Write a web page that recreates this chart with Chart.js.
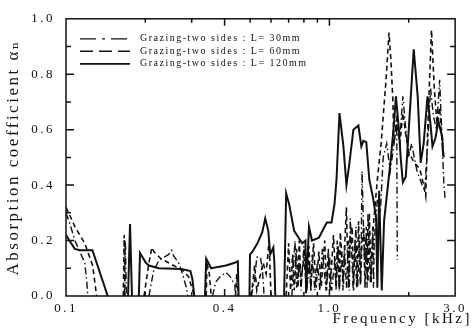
<!DOCTYPE html>
<html>
<head>
<meta charset="utf-8">
<script src="https://cdn.jsdelivr.net/npm/chart.js@4.4.1/dist/chart.umd.min.js"></script>
<style>
  html, body { margin: 0; padding: 0; background: #fff; }
  #wrap { width: 472px; height: 333px; }
</style>
</head>
<body>
<div id="wrap"><canvas id="absorb"></canvas></div>
<script>
// frequency [kHz] and absorption coefficient, null = gap in the curve
const f30 = [0.100,0.1035,0.1081,0.1128,0.1178,0.120,0.1209, 0.14,
  0.1665,0.168,0.1695, 0.19,
  0.2065,0.215,0.2251,0.2454,0.2519,0.2562,0.2675,0.2745,0.2865,0.290, 0.33,
  0.36,0.37,0.385,0.405,0.42,0.437,0.44, 0.47,
  0.505,0.52,0.53,0.547,0.556,0.565, 0.64,
  0.72,0.74,0.75,0.77,0.78,0.80,0.82,0.84,0.85,0.86,0.88,0.90,0.92,0.94,0.97,1.0,1.02,
  1.05,1.06,1.07,1.09,1.115,1.125,1.14,1.16,1.18,1.19,1.20,1.23,1.26,1.28,1.30,1.315,
  1.33,1.36,1.38,1.39,1.40,1.43,1.46,1.47,1.48,1.52,1.56,1.60,1.65,1.70,1.76,1.80,1.81, 1.83,
  1.86,1.90,1.95,2.0,2.05,2.15,2.25,2.30,2.36,2.42,2.48,2.55,2.62,2.68,2.72,2.75];
const a30 = [0.30,0.26,0.20,0.16,0.12,0.05,0, null,
  0,0.20,0, null,
  0,0.09,0.128,0.15,0.165,0.145,0.12,0.09,0.03,0, null,
  0,0.05,0.07,0.085,0.07,0.04,0, null,
  0,0.06,0.14,0.14,0.10,0, null,
  0,0.20,0.03,0.12,0.02,0.18,0.02,0.12,0.02,0.15,0.02,0.12,0.02,0.17,0.02,0.15,0.02,
  0.14,0.02,0.20,0.02,0.16,0.02,0.18,0.03,0.20,0.02,0.28,0.03,0.25,0.03,0.20,0.05,
  0.45,0.10,0.25,0.03,0.30,0.05,0.25,0.03,0.20,0.35,0.30,0.50,0.55,0.45,0.55,0.65,0.13, null,
  0.60,0.72,0.60,0.50,0.55,0.45,0.40,0.38,0.55,0.75,0.65,0.60,0.78,0.55,0.40,0.35];

const f60 = [0.100,0.1035,0.1081,0.1128,0.1178,0.1262,0.1307, 0.15,
  0.165,0.1663,0.1675, 0.18,
  0.1978,0.2065,0.2119,0.2155,0.229,0.2562,0.2792,0.2917,0.3071, 0.32,
  0.3406,0.343,0.350,0.356, 0.40,
  0.44,0.445,0.45, 0.48,
  0.505,0.52,0.53,0.56,0.575,0.59,0.60, 0.65,
  0.685,0.70,0.712,0.725,0.735,0.75,0.76,0.768,0.78,0.80,0.82,0.836,0.85,0.87,0.89,
  0.912,0.93,0.96,0.975,0.99,1.005,1.036,1.06,1.08,1.09,1.10,1.13,1.145,1.16,1.18,
  1.20,1.22,1.235,1.25,1.27,1.29,1.31,1.33,1.35,1.365,1.38,1.40,1.417,1.44,1.467,
  1.52,1.571,1.64,1.683,1.712,1.742,1.757,1.80,1.85,1.90,1.95,2.0,2.1,2.2,2.28,
  2.32,2.36,2.44,2.50,2.56,2.62,2.68,2.72];
const a60 = [0.32,0.29,0.25,0.22,0.19,0.11,0, null,
  0,0.22,0, null,
  0,0.12,0.175,0.16,0.135,0.11,0.09,0.07,0, null,
  0,0.12,0.08,0, null,
  0,0.08,0, null,
  0,0.11,0.02,0.12,0.08,0.20,0, null,
  0,0.19,0.02,0.15,0.02,0.17,0.03,0.20,0.05,0.14,0.02,0.18,0.02,0.19,0.03,
  0.16,0.03,0.20,0.02,0.17,0.02,0.22,0.03,0.18,0.02,0.23,0.04,0.20,0.32,0.03,
  0.22,0.25,0.02,0.20,0.03,0.27,0.04,0.20,0.25,0.03,0.22,0.05,0.30,0.05,0.25,
  0.42,0.55,0.78,0.95,0.85,0.70,0.55,0.62,0.55,0.66,0.58,0.52,0.48,0.46,0.40,
  0.36,0.60,0.96,0.75,0.62,0.68,0.55,0.50];

const f120 = [0.100,0.103,0.108,0.113,0.126,0.144, 0.16,
  0.172,0.175,0.178, 0.183,
  0.189,0.191,0.201,0.2065,0.225,0.2745,0.2967,0.302,0.307, 0.32,
  0.337,0.3406,0.3557,0.378,0.4049,0.4368,0.449,0.452, 0.47,
  0.497,0.4995,0.5102,0.533,0.556,0.5705,0.586,0.596,0.6125,0.618,0.623, 0.65,
  0.673,0.685,0.7035,0.7346,0.7885,0.811,0.815,0.8363,0.8584,0.9122,0.9526,0.9779,
  1.0183,1.045,1.0637,1.0918,1.130,1.160,1.191,1.233,1.288,1.322,1.345,1.380,1.417,
  1.467,1.504,1.52,1.544,1.58,1.612,1.668,1.712,1.757,1.788,1.835,1.867,1.900,1.949,
  2.0,2.089,2.163,2.22,2.278,2.357,2.419,2.461,2.526,2.592,2.684,2.707];
const a120 = [0.22,0.20,0.17,0.165,0.165,0, null,
  0,0.26,0, null,
  0,0.155,0.12,0.11,0.10,0.097,0.09,0.06,0, null,
  0,0.135,0.10,0.105,0.11,0.12,0.125,0, null,
  0,0.15,0.16,0.19,0.23,0.28,0.235,0.15,0.175,0.12,0, null,
  0,0.37,0.33,0.235,0.19,0.20,0.01,0.25,0.20,0.21,0.245,0.265,
  0.265,0.33,0.42,0.66,0.54,0.40,0.48,0.60,0.615,0.54,0.56,0.555,0.42,
  0.35,0.28,0.03,0.38,0.02,0.27,0.40,0.50,0.62,0.72,0.60,0.49,0.41,0.43,
  0.60,0.89,0.72,0.48,0.55,0.72,0.62,0.54,0.57,0.63,0.57,0.50];

const seriesNames = ['Grazing-two sides : L= 30mm', 'Grazing-two sides : L= 60mm', 'Grazing-two sides : L= 120mm'];
const xTicks = [0.1, 0.4, 1.0, 3.0];
const xMinor = [0.2, 0.3, 0.5, 0.6, 0.7, 0.8, 0.9, 2.0];
const yTicks = [0, 0.2, 0.4, 0.6, 0.8, 1.0];
const yMinor = [0.1, 0.3, 0.5, 0.7, 0.9];

const SERIF = "'Liberation Serif', 'DejaVu Serif', serif";
const INK = '#111';

function pts(fs, as) {
  return fs.map((f, i) => ({ x: f, y: as[i] }));
}

// dash patterns for plot and legend samples
const dashes = [[7, 3, 1.5, 3], [5, 3.5], []];
const legendDashes = [[16, 6, 3, 6], [13, 6], []];
const widths = [1.4, 1.6, 2.0];

const framePlugin = {
  id: 'frame',
  beforeLayout(chart) { chart.ctx.letterSpacing = '2.5px'; },
  beforeDraw(chart) {
    const ctx = chart.ctx;
    ctx.save();
    ctx.fillStyle = '#fff';
    ctx.fillRect(0, 0, chart.width, chart.height);
    ctx.restore();
    ctx.letterSpacing = '2.5px';
  },
  afterDraw(chart) {
    const { ctx, chartArea: a, scales: { x, y } } = chart;
    ctx.save();
    ctx.strokeStyle = INK;
    ctx.lineWidth = 1.5;
    ctx.setLineDash([]);
    ctx.strokeRect(a.left, a.top, a.right - a.left, a.bottom - a.top);

    // inward ticks on all four sides
    ctx.beginPath();
    const xt = (v, len) => {
      const px = x.getPixelForValue(v);
      ctx.moveTo(px, a.top); ctx.lineTo(px, a.top + len);
      ctx.moveTo(px, a.bottom); ctx.lineTo(px, a.bottom - len);
    };
    const yt = (v, len) => {
      const py = y.getPixelForValue(v);
      ctx.moveTo(a.left, py); ctx.lineTo(a.left + len, py);
      ctx.moveTo(a.right, py); ctx.lineTo(a.right - len, py);
    };
    xMinor.forEach(v => xt(v, 4));
    xTicks.slice(1, -1).forEach(v => xt(v, 7));
    yMinor.forEach(v => yt(v, 5));
    yTicks.slice(1, -1).forEach(v => yt(v, 8));
    ctx.stroke();

    // legend inside the plot
    ctx.font = '10px ' + SERIF;
    ctx.letterSpacing = '1.5px';
    ctx.fillStyle = INK;
    ctx.textBaseline = 'middle';
    ctx.textAlign = 'left';
    seriesNames.forEach((name, i) => {
      const ly = a.top + 20 + i * 12.5;
      ctx.beginPath();
      ctx.lineWidth = widths[i] - 0.2;
      ctx.setLineDash(legendDashes[i]);
      ctx.moveTo(a.left + 14, ly);
      ctx.lineTo(a.left + 64, ly);
      ctx.stroke();
      ctx.fillText(name, a.left + 74, ly);
    });

    // x axis title, right aligned under the corner
    ctx.font = '15px ' + SERIF;
    ctx.letterSpacing = '2.5px';
    ctx.textAlign = 'right';
    ctx.fillText('Frequency [kHz]', 472, 319);
    ctx.restore();
  }
};

Chart.defaults.color = INK;
Chart.defaults.font.family = SERIF;

new Chart(document.getElementById('absorb'), {
  type: 'line',
  data: {
    datasets: [
      { label: seriesNames[0], data: pts(f30, a30), borderDash: dashes[0], borderWidth: widths[0] },
      { label: seriesNames[1], data: pts(f60, a60), borderDash: dashes[1], borderWidth: widths[1] },
      { label: seriesNames[2], data: pts(f120, a120), borderDash: dashes[2], borderWidth: widths[2] }
    ]
  },
  options: {
    responsive: true,
    maintainAspectRatio: false,
    devicePixelRatio: 1,
    animation: false,
    layout: { padding: { top: 15, right: 12, left: 0, bottom: 0 } },
    elements: {
      line: { borderColor: INK, tension: 0, fill: false },
      point: { radius: 0 }
    },
    spanGaps: false,
    plugins: {
      legend: { display: false },
      tooltip: { enabled: false }
    },
    scales: {
      x: {
        type: 'logarithmic',
        min: 0.1,
        max: 3.0,
        grid: { display: false, drawTicks: false },
        border: { display: false },
        afterBuildTicks: s => { s.ticks = xTicks.map(v => ({ value: v })); },
        afterFit: s => { s.height = 37; },
        ticks: {
          autoSkip: false,
          maxRotation: 0,
          padding: 5,
          font: { size: 13 },
          callback: v => Number(v).toFixed(1)
        }
      },
      y: {
        min: 0,
        max: 1.0,
        grid: { display: false, drawTicks: false },
        border: { display: false },
        afterBuildTicks: s => { s.ticks = yTicks.map(v => ({ value: v })); },
        afterFit: s => { s.width = 66; },
        ticks: {
          padding: 11,
          font: { size: 13 },
          callback: v => Number(v).toFixed(1)
        },
        title: {
          display: true,
          text: 'Absorption coefficient αₙ',
          font: { size: 17 },
          padding: { top: 3, bottom: 0 }
        }
      }
    }
  },
  plugins: [framePlugin]
});
</script>
</body>
</html>
